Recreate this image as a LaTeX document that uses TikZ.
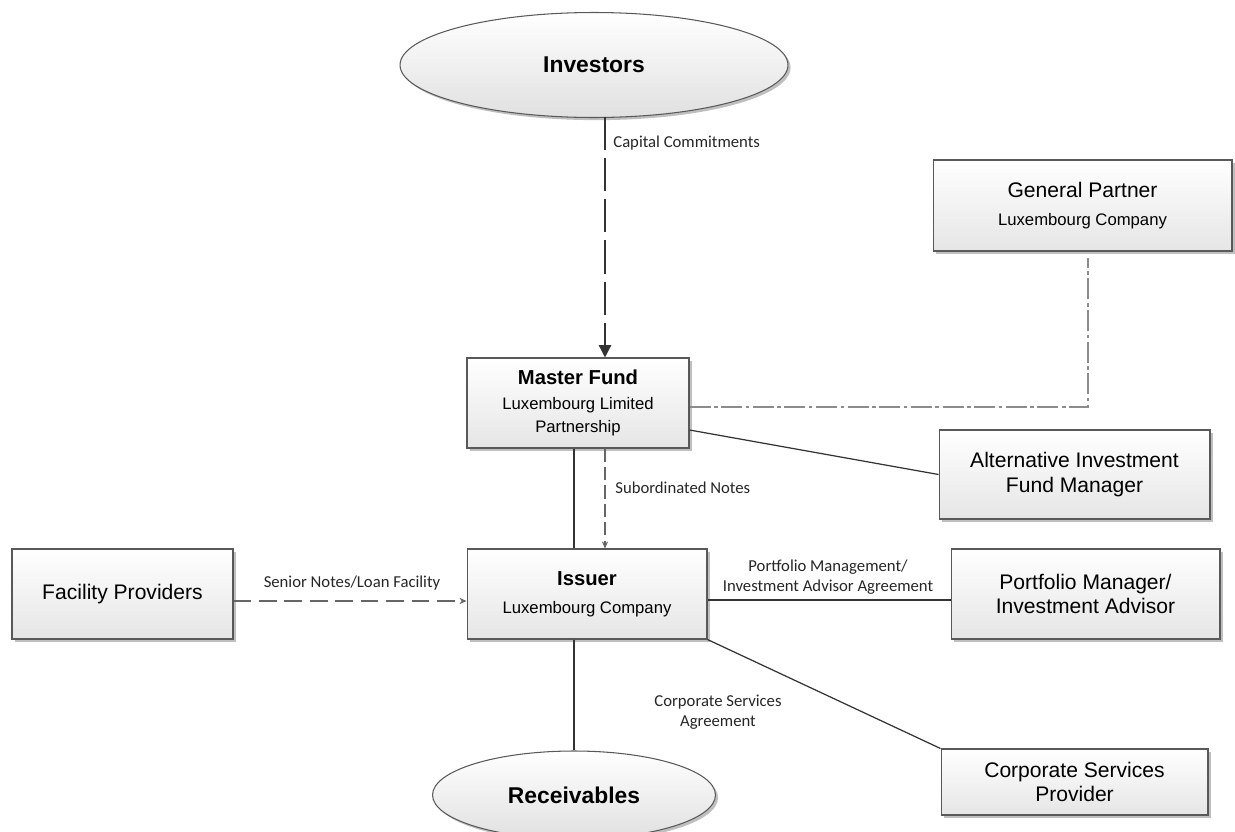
\documentclass[tikz,border=0pt]{standalone}
\usepackage{fontspec}
\setmainfont{Liberation Sans}
\newfontfamily\lblfont{Carlito}
\usetikzlibrary{arrows.meta,shapes.geometric,shadows}
\newcommand\subsize{\fontsize{9.5}{12}\selectfont}

\begin{document}
\begin{tikzpicture}[x=0.02cm,y=-0.02cm,
  box/.style={rectangle,draw=black!65,line width=0.6pt,inner sep=0pt,
    top color=white,bottom color=black!10,align=center,font=\fontsize{12}{15}\selectfont,
    drop shadow={shadow xshift=1.5pt,shadow yshift=-1.5pt,opacity=0.25,fill=black}},
  oval/.style={ellipse,draw=black!65,line width=0.6pt,inner sep=0pt,
    top color=white,bottom color=black!12,font=\fontsize{13}{15}\selectfont\bfseries,
    drop shadow={shadow xshift=1.5pt,shadow yshift=-1.5pt,opacity=0.25,fill=black}},
  lbl/.style={font=\lblfont\fontsize{9.5}{11.5}\selectfont,align=center,text=black!85,inner sep=0pt},
  link/.style={draw=black!80,line width=0.7pt}]
\useasboundingbox (0,0) rectangle (1235,832);

% Ovals
\node (inv) at (594,65) [oval,minimum width=7.76cm,minimum height=2.1cm] {Investors};
\node (rec) at (574,795) [oval,minimum width=5.66cm,minimum height=1.76cm] {Receivables};

% Boxes
\node (master) at (578,403) [box,minimum width=4.44cm,minimum height=1.8cm]
  {\textbf{\fontsize{11.5}{14}\selectfont Master Fund}\\[-1pt]{\subsize Luxembourg Limited}\\[-2pt]{\subsize Partnership}};
\node (issuer) at (587,594) [box,minimum width=4.8cm,minimum height=1.8cm]
  {\textbf{\fontsize{11.5}{14}\selectfont Issuer}\\[1pt]{\subsize Luxembourg Company}};
\node (fac) at (122.5,594) [box,minimum width=4.42cm,minimum height=1.8cm] {Facility Providers};
\node (gp) at (1082.5,205.5) [box,minimum width=5.98cm,minimum height=1.82cm]
  {General Partner\\[1pt]{\subsize Luxembourg Company}};
\node (aifm) at (1074.5,474.5) [box,minimum width=5.42cm,minimum height=1.78cm]
  {Alternative Investment\\[-1pt]Fund Manager};
\node (pm) at (1085.5,594) [box,minimum width=5.38cm,minimum height=1.8cm]
  {Portfolio Manager/\\[-1pt]Investment Advisor};
\node (csp) at (1074.5,782) [box,minimum width=5.34cm,minimum height=1.32cm]
  {Corporate Services\\[-1pt]Provider};

% Connectors
\draw[link,dash pattern=on 19pt off 4.5pt,-{Triangle[length=7pt,width=7pt]}]
  ([xshift=0.54cm,yshift=0.03cm]master.north |- inv.south) -- ([xshift=0.54cm]master.north);
\node (lcap) at (613,143) [lbl,anchor=west] {Capital Commitments};

\draw[link,dash pattern=on 12pt off 2pt on 2pt off 2pt,draw=black!45]
  ([yshift=-0.08cm]master.east) -| ([xshift=0.11cm,yshift=-0.12cm]gp.south);
\draw[link] ([yshift=-0.54cm]master.east) -- (aifm.west);

\draw[link] ([xshift=-0.08cm]master.south) -- ([xshift=-0.08cm]master.south |- issuer.north);
\draw[link,draw=black!60,dash pattern=on 7.5pt off 3pt,-{Stealth[length=4pt,width=3.5pt]}]
  ([xshift=0.54cm]master.south) -- ([xshift=0.54cm]master.south |- issuer.north);
\node (lsub) at (615,488) [lbl,anchor=west] {Subordinated Notes};

\draw[link,draw=black!60,dash pattern=on 10pt off 4.5pt,-{Stealth[length=4pt,width=3.5pt]}]
  ([yshift=-0.14cm]fac.east) -- ([yshift=-0.14cm]fac.east -| issuer.west);
\node (lsen) at (352,583) [lbl] {Senior Notes/Loan Facility};

\draw[link] ([yshift=-0.12cm]issuer.east) -- ([yshift=-0.12cm]issuer.east -| pm.west);
\node (lpm) at (828,577) [lbl] {Portfolio Management/\\Investment Advisor Agreement};

\draw[link] (issuer.south east) -- (csp.north west);
\node (lcsa) at (718,712) [lbl] {Corporate Services\\Agreement};

\draw[link] (rec.north |- issuer.south) -- (rec.north);
\end{tikzpicture}
\end{document}
